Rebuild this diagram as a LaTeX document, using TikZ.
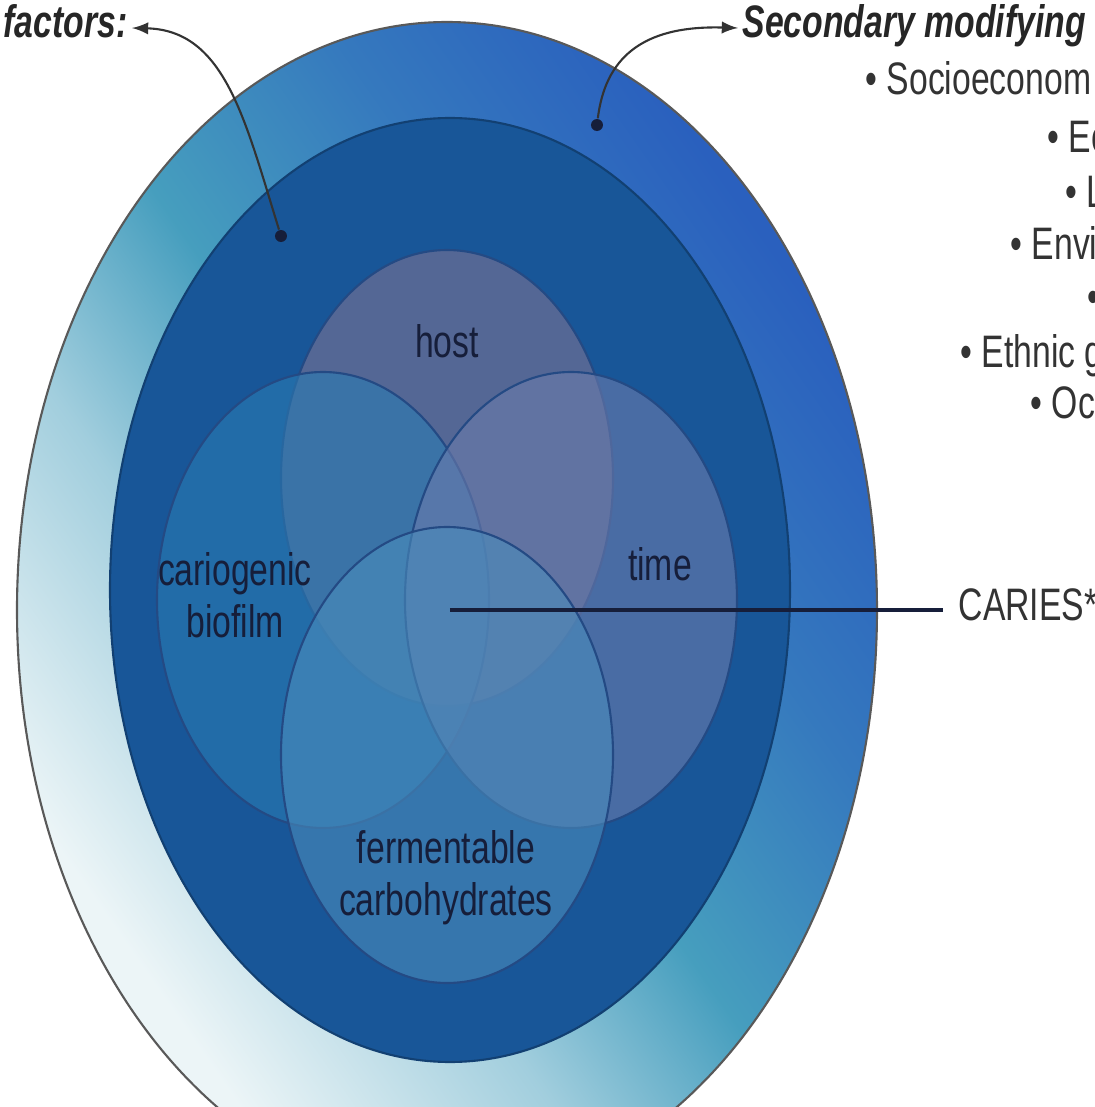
\documentclass[tikz,border=0pt]{standalone}
\usepackage{fontspec}
\setmainfont{Liberation Sans}
\usepackage{graphicx}
\definecolor{ringblue}{RGB}{42,96,190}
\definecolor{ringteal}{RGB}{70,158,190}
\definecolor{ringpale}{RGB}{236,245,247}
\definecolor{ringdark}{RGB}{24,86,152}
\definecolor{hostfill}{RGB}{124,115,147}
\definecolor{biofill}{RGB}{41,123,180}
\definecolor{timefill}{RGB}{107,123,172}
\definecolor{carbfill}{RGB}{74,140,188}
\definecolor{venline}{RGB}{36,74,132}
\definecolor{ink}{RGB}{22,30,58}
\pgfdeclareverticalshading{ringshade}{100bp}{color(0bp)=(ringpale); color(27bp)=(ringpale); color(40bp)=(ringteal!45!ringpale); color(50bp)=(ringteal); color(62bp)=(ringteal!40!ringblue); color(74bp)=(ringblue); color(100bp)=(ringblue)}
\newcommand{\stretched}[1]{\scalebox{1}[1.35]{\begin{tabular}{@{}c@{}}#1\end{tabular}}}

\begin{document}
\begin{tikzpicture}[
    vennpart/.style={draw=venline, line width=0.6pt, fill opacity=0.6},
    vlabel/.style={font=\fontsize{9.6}{10.9}\selectfont, text=ink, inner sep=0pt},
    headtext/.style={font=\fontsize{9.6}{10.5}\selectfont\bfseries\itshape, text=black!85, inner sep=0.4mm},
    listtext/.style={font=\fontsize{9.6}{10.5}\selectfont, text=black!80, inner sep=0pt, anchor=west},
    dotmark/.style={circle, fill=ink, inner sep=0pt, minimum size=1.2mm}
]
    \useasboundingbox (0,0) rectangle (10.95,11.07);

    % outer rings
    \shade[shading=ringshade, shading angle=-55] (4.47,4.97) ellipse (4.30 and 5.88);
    \draw[black!65, line width=0.6pt] (4.47,4.97) ellipse (4.30 and 5.88);
    \draw[fill=ringdark, draw=ringdark!75!black, line width=0.6pt] (4.50,5.17) ellipse (3.40 and 4.72);

    % the four primary factors
    \draw[vennpart, fill=hostfill] (4.47,6.29) ellipse (1.66 and 2.28);
    \draw[vennpart, fill=biofill] (3.23,5.07) ellipse (1.66 and 2.28);
    \draw[vennpart, fill=timefill] (5.71,5.07) ellipse (1.66 and 2.28);
    \draw[vennpart, fill=carbfill] (4.47,3.52) ellipse (1.66 and 2.28);

    \node[vlabel] (host) at (4.47,7.60) {\stretched{host}};
    \node[vlabel] (biofilm) at (2.35,5.06) {\stretched{cariogenic\\biofilm}};
    \node[vlabel] (time) at (6.60,5.37) {\stretched{time}};
    \node[vlabel] (carbs) at (4.46,2.28) {\stretched{fermentable\\carbohydrates}};

    % caries in the middle
    \coordinate (core) at (4.50,4.97);
    \node[vlabel, anchor=west, inner xsep=1.5mm, text=black!80] (caries) at (9.43,4.97) {\stretched{CARIES*}};
    \draw[ink, line width=0.9pt] (core) -- (caries.west);

    % headings and arrows
    \node[headtext, anchor=east] (factors) at (1.32,10.79) {\stretched{factors:}};
    \node[headtext, anchor=west] (secondary) at (7.38,10.79) {\stretched{Secondary modifying}};
    \node[dotmark] (innerdot) at (2.81,8.71) {};
    \node[dotmark] (outerdot) at (5.97,9.82) {};
    \draw[-latex, black!80, line width=0.6pt] (innerdot) .. controls (2.45,9.87) and (2.25,10.77) .. (factors.east);
    \draw[-latex, black!80, line width=0.6pt] (outerdot) .. controls (6.05,10.47) and (6.40,10.82) .. (secondary.west);

    % secondary factors list
    \node[listtext] (socio) at (8.65,10.22) {\stretched{• Socioeconom}};
    \node[listtext] (educ) at (10.47,9.64) {\stretched{• Ec}};
    \node[listtext] (life) at (10.65,9.09) {\stretched{• L}};
    \node[listtext] (envi) at (10.10,8.57) {\stretched{• Envi}};
    \node[listtext] (blank) at (10.87,8.04) {\stretched{•}};
    \node[listtext] (ethnic) at (9.60,7.49) {\stretched{• Ethnic g}};
    \node[listtext] (occup) at (10.30,6.98) {\stretched{• Oc}};
\end{tikzpicture}
\end{document}
